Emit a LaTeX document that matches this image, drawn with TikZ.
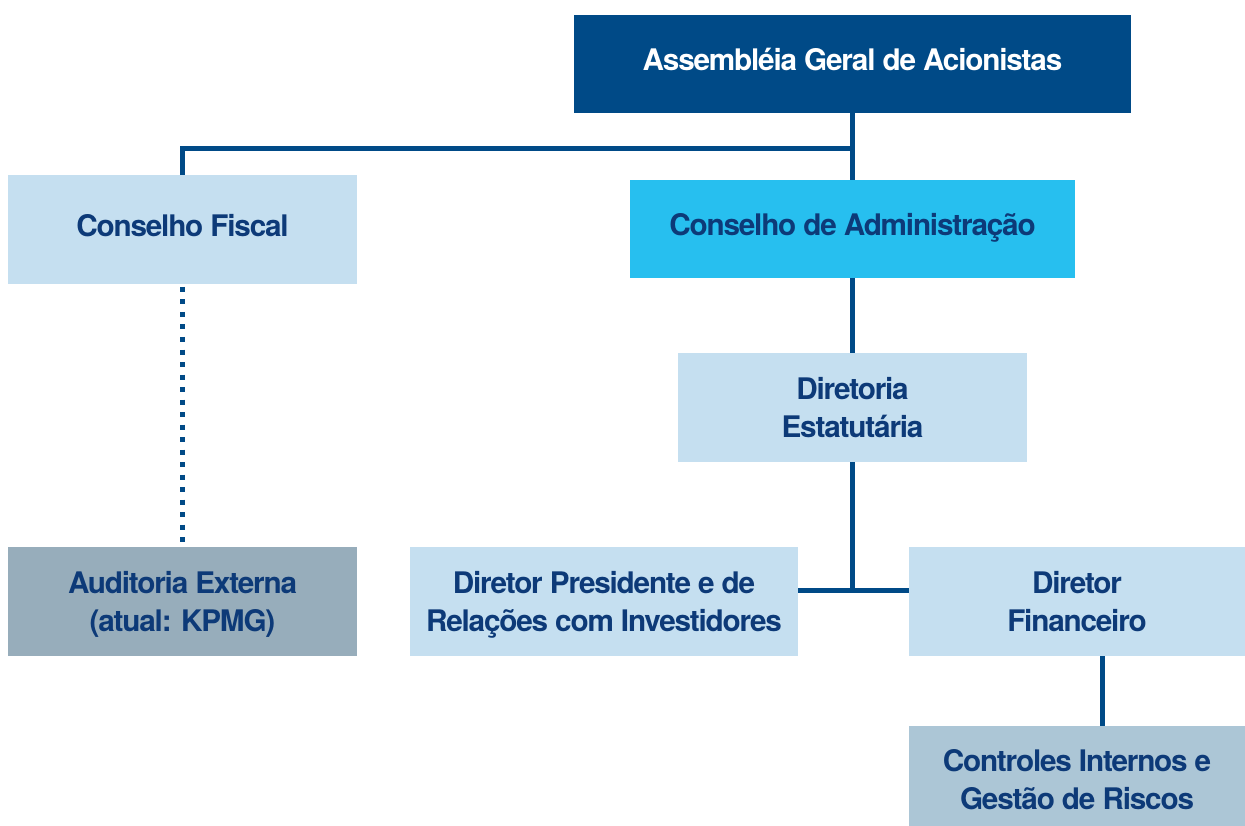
\documentclass[tikz,border=0pt]{standalone}
\usepackage{fontspec}
\setmainfont{TeX Gyre Heros}[LetterSpace=-4.0]
\definecolor{navy}{HTML}{004A87}
\definecolor{txtnavy}{HTML}{0D3A78}
\definecolor{lightbox}{HTML}{C5DFF0}
\definecolor{cyanbox}{HTML}{27BFEF}
\definecolor{greybox}{HTML}{97ADBB}
\definecolor{steelbox}{HTML}{ACC6D6}
\newcommand{\lnstrut}{\rule[-8pt]{0pt}{30pt}}
\newcommand{\lnstrutfirst}{\rule[-8pt]{0pt}{37pt}}
\newcommand{\lnstruthigh}{\rule[-8pt]{0pt}{45pt}}
\begin{document}
\begin{tikzpicture}[x=1pt,y=-1pt,
  box/.style={rectangle, inner sep=0pt, outer sep=0pt, align=center,
    text=txtnavy, font=\fontsize{29.7}{38}\selectfont\bfseries},
  conn/.style={draw=navy, line width=5pt},
  dotconn/.style={draw=navy, line width=5pt, dash pattern=on 5pt off 7.5pt}]
\useasboundingbox[fill=white] (0,0) rectangle (1245,826);
\node[box, fill=navy, text=white, minimum width=557pt, minimum height=98pt, text height=22pt, text depth=8pt]
  (aga) at (852.5,64) {Assembléia Geral de Acionistas};
\node[box, fill=lightbox, minimum width=349pt, minimum height=109pt, text height=22pt, text depth=8pt]
  (cf) at (182.5,229.5) {Conselho Fiscal};
\node[box, fill=cyanbox, minimum width=445pt, minimum height=98pt, text height=22pt, text depth=8pt]
  (ca) at (852.5,229) {Conselho de Administração};
\node[box, fill=lightbox, minimum width=349pt, minimum height=109pt]
  (de) at (852.5,407.5) {\lnstrutfirst Diretoria\\\lnstrut Estatutária};
\node[box, fill=lightbox, minimum width=388pt, minimum height=109pt]
  (dp) at (604,601.5) {\lnstrutfirst Diretor Presidente e de\\\lnstrut Relações com Investidores};
\node[box, fill=lightbox, minimum width=336pt, minimum height=109pt]
  (df) at (1077,601.5) {\lnstrutfirst Diretor\\\lnstrut Financeiro};
\node[box, fill=steelbox, minimum width=336pt, minimum height=100pt]
  (ci) at (1077,776) {\lnstruthigh Controles Internos e\\\lnstrut Gestão de Riscos};
\node[box, fill=greybox, minimum width=349pt, minimum height=109pt]
  (ae) at (182.5,601.5) {\lnstrutfirst Auditoria Externa\\\lnstrut (atual: KPMG)};
\coordinate (j1) at (852,149);
\coordinate (j2) at (852,590);
\draw[conn] (aga.south -| j1) -- (ca.north -| j1);
\draw[conn] (j1) -| (cf.north);
\draw[conn] (ca.south -| j1) -- (de.north -| j1);
\draw[conn] (de.south -| j2) -- (j2);
\draw[conn] (dp.east |- j2) -- (df.west |- j2);
\draw[conn] (1102,656) -- (1102,726);
\draw[dotconn] (cf.south) ++(0,3) -- (ae.north);
\end{tikzpicture}
\end{document}
